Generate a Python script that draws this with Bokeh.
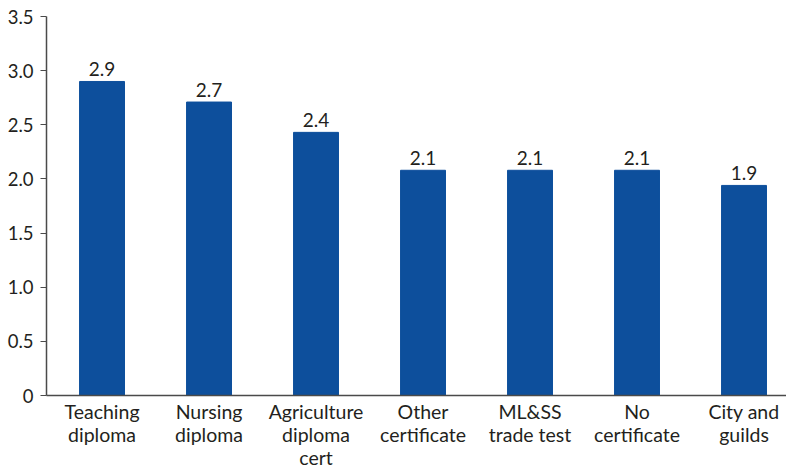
from bokeh.plotting import figure
from bokeh.models import Range1d, FixedTicker, ColumnDataSource, NumeralTickFormatter
from bokeh.embed import file_html
from bokeh.resources import INLINE
from bokeh.core.properties import value

categories = ["Teaching\ndiploma", "Nursing\ndiploma", "Agriculture\ndiploma\ncert",
              "Other\ncertificate", "ML&SS\ntrade test", "No\ncertificate", "City and\nguilds"]
values = [2.90, 2.71, 2.43, 2.08, 2.08, 2.08, 1.94]
y_ticks = [0, 0.5, 1.0, 1.5, 2.0, 2.5, 3.0, 3.5]

FONT = "Lato"
TXT = "#231f20"
AX = "#4a4a4a"

xs = list(range(len(categories)))
src = ColumnDataSource(dict(x=xs, top=values, label=[f"{v:.1f}" for v in values]))

p = figure(width=786, height=471, output_backend="svg", toolbar_location=None,
           x_range=Range1d(-0.519, 6.397), y_range=Range1d(0, 3.5),
           min_border_left=46, min_border_right=0, min_border_top=16, min_border_bottom=0)
p.outline_line_color = None
p.grid.grid_line_color = None

p.vbar(x="x", top="top", width=0.42, source=src, color="#0D4F9C")
p.text(x="x", y="top", text="label", source=src, text_align="center", text_baseline="bottom",
       y_offset=-5, text_font=value(FONT), text_font_size="19px", text_color=TXT)

p.yaxis.ticker = FixedTicker(ticks=y_ticks)
p.yaxis.formatter = NumeralTickFormatter(format="0.0")
p.yaxis.major_label_overrides = {0: "0"}
p.yaxis.minor_tick_line_color = None
p.yaxis.major_tick_in = 0
p.yaxis.major_tick_out = 6
p.yaxis.axis_line_color = AX
p.yaxis.major_tick_line_color = AX
p.yaxis.axis_line_width = 1.5
p.yaxis.major_label_text_font = FONT
p.yaxis.major_label_text_font_size = "18.5px"
p.yaxis.major_label_text_color = TXT
p.yaxis.major_label_standoff = 7

p.xaxis.ticker = FixedTicker(ticks=xs)
p.xaxis.major_label_overrides = {i: c for i, c in enumerate(categories)}
p.xaxis.minor_tick_line_color = None
p.xaxis.major_tick_line_color = None
p.xaxis.major_tick_out = 0
p.xaxis.major_tick_in = 0
p.xaxis.axis_line_color = AX
p.xaxis.axis_line_width = 1.5
p.xaxis.major_label_text_font = FONT
p.xaxis.major_label_text_font_size = "19.5px"
p.xaxis.major_label_text_color = TXT
p.xaxis.major_label_text_line_height = 1.0
p.xaxis.major_label_standoff = 4

open("out.html", "w").write(file_html(p, INLINE))
